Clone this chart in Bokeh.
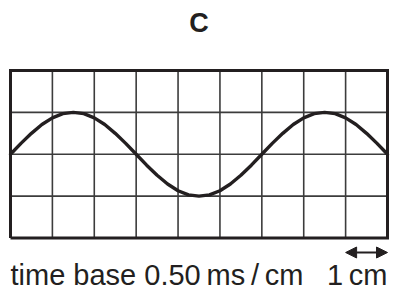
from bokeh.plotting import figure
from bokeh.models import Range1d, Label, Arrow, NormalHead
from bokeh.embed import file_html
from bokeh.resources import INLINE

# ---- data ----
title_text = "C"
caption_text = "time base 0.50\u2009ms\u2009/\u2009cm"
scale_text = "1\u2009cm"

n_cols = 9          # horizontal divisions (cm)
n_rows = 4          # vertical divisions (cm)
grid_x = [1, 2, 3, 4, 5, 6, 7, 8]
grid_y = [1, 2, 3]

# trace: position in cm, deflection in cm from centre line
trace_x = [0, 0.25, 0.5, 0.75, 1.0, 1.25, 1.5, 1.75, 2.0, 2.25, 2.5, 2.75,
           3.0, 3.25, 3.5, 3.75, 4.0, 4.25, 4.5, 4.75, 5.0, 5.25, 5.5, 5.75,
           6.0, 6.25, 6.5, 6.75, 7.0, 7.25, 7.5, 7.75, 8.0, 8.25, 8.5, 8.75, 9.0]
trace_y = [0, 0.26, 0.5, 0.71, 0.87, 0.97, 1.0, 0.97, 0.87, 0.71, 0.5, 0.26,
           0, -0.26, -0.5, -0.71, -0.87, -0.97, -1.0, -0.97, -0.87, -0.71, -0.5, -0.26,
           0, 0.26, 0.5, 0.71, 0.87, 0.97, 1.0, 0.97, 0.87, 0.71, 0.5, 0.26, 0]
centre_line = 2
scale_bar = [8, 9]

INK = "#231f20"
FONT = "Liberation Sans"

W, H = 398, 289
px = 377 / 9.0
x0 = -10 / px
x1 = 9 + (W - 387) / px
y1 = 4 + 70 / px
y0 = y1 - H / px


def sy(s):
    """screen row (from top) -> data y"""
    return y1 - s / px


p = figure(width=W, height=H, output_backend="svg", toolbar_location=None,
           x_range=Range1d(x0, x1), y_range=Range1d(y0, y1),
           min_border=0, min_border_left=0, min_border_right=0,
           min_border_top=0, min_border_bottom=0)
p.axis.visible = False
p.xgrid.visible = False
p.ygrid.visible = False
p.outline_line_color = None
p.background_fill_color = "white"
p.border_fill_color = "white"

# grid
p.segment(x0=grid_x, y0=[0] * len(grid_x), x1=grid_x, y1=[n_rows] * len(grid_x),
          line_color="#3c3c3c", line_width=1.6)
p.segment(x0=[0] * len(grid_y), y0=grid_y, x1=[n_cols] * len(grid_y), y1=grid_y,
          line_color="#3c3c3c", line_width=1.6)
# border
p.line(x=[0, n_cols, n_cols, 0, 0], y=[0, 0, n_rows, n_rows, 0],
       line_color=INK, line_width=3, line_join="miter")

# trace
p.line(x=trace_x, y=[centre_line + v for v in trace_y], line_color=INK,
       line_width=3.4, line_join="round", line_cap="round")

# title
p.add_layout(Label(x=4.5, y=sy(22), text=title_text, text_align="center",
                   text_baseline="alphabetic", text_font=FONT, text_font_size="27px",
                   text_font_style="bold", text_color=INK))

# caption
p.add_layout(Label(x=x0 + 10 / px, y=sy(274), text=caption_text,
                   text_align="left", text_baseline="alphabetic", text_font=FONT,
                   text_font_size="29px", text_color=INK))
p.add_layout(Label(x=9, y=sy(274), text=scale_text,
                   text_align="right", text_baseline="alphabetic", text_font=FONT,
                   text_font_size="29px", text_color=INK))

# scale arrow
ay = sy(252)
p.add_layout(Arrow(x_start=scale_bar[0], y_start=ay, x_end=scale_bar[1], y_end=ay,
                   line_color=INK, line_width=2,
                   start=NormalHead(size=11, fill_color=INK, line_color=INK),
                   end=NormalHead(size=11, fill_color=INK, line_color=INK)))

open("out.html", "w").write(file_html(p, INLINE))
